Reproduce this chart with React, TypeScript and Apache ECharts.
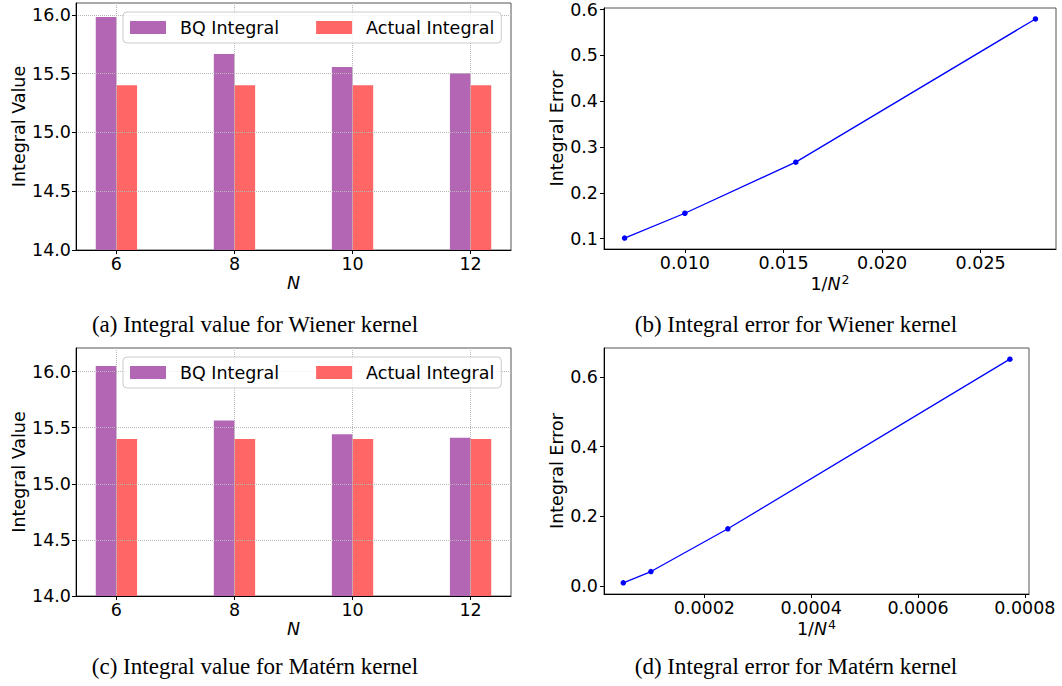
import React, { useEffect, useRef } from "react";
import * as echarts from "echarts";

// ---- data ----
const N_VALUES = [6, 8, 10, 12];
const wienerBQ = [15.98, 15.667, 15.556, 15.502];
const wienerActual = [15.4, 15.4, 15.4, 15.4];
const maternBQ = [16.05, 15.565, 15.442, 15.41];
const maternActual = [15.4, 15.4, 15.4, 15.4];

const wienerInvN2 = [0.027778, 0.015625, 0.01, 0.006944];
const wienerError = [0.5796, 0.2671, 0.1556, 0.1015];
const maternInvN4 = [0.000772, 0.000244, 0.0001, 0.0000482];
const maternError = [0.6506, 0.1645, 0.042, 0.0097];

// ---- tick labels ----
const barYTicks = [14, 14.5, 15, 15.5, 16];
const wienerXTicks = [0.01, 0.015, 0.02, 0.025];
const wienerYTicks = [0.1, 0.2, 0.3, 0.4, 0.5, 0.6];
const maternXTicks = [0.0002, 0.0004, 0.0006, 0.0008];
const maternYTicks = [0, 0.2, 0.4, 0.6];

const captions = [
  "(a) Integral value for Wiener kernel",
  "(b) Integral error for Wiener kernel",
  "(c) Integral value for Matérn kernel",
  "(d) Integral error for Matérn kernel",
];

const FONT = "DejaVu Sans";
const FS = 17.5;
const BQ_COLOR = "#B366B3";
const ACT_COLOR = "#FF6666";

const labelStyle = (margin: number, customValues: number[], digits: number) => ({
  customValues,
  margin,
  fontFamily: FONT,
  fontSize: FS,
  lineHeight: 18,
  color: "#000",
  formatter: (v: number) => v.toFixed(digits),
});

const tickStyle = (customValues: number[]) => ({
  show: true,
  length: 4,
  customValues,
  lineStyle: { color: "#000", width: 1 },
});

const axisLine = { show: true, onZero: false, lineStyle: { color: "#000", width: 1 } };

const nameStyle = (italic: boolean) => ({
  fontFamily: FONT,
  fontSize: FS,
  lineHeight: 18,
  color: "#000",
  fontStyle: italic ? "italic" : "normal",
});

const gridLine = { show: true, lineStyle: { type: "dotted", color: "#b8b8b8", width: 1 } };

function barXAxis(gridIndex: number) {
  return {
    type: "value",
    gridIndex,
    min: 5.315,
    max: 12.685,
    axisLine,
    axisTick: tickStyle(N_VALUES),
    axisLabel: labelStyle(5, N_VALUES, 0),
    splitLine: gridLine,
    name: "N",
    nameLocation: "middle",
    nameGap: 24,
    nameTextStyle: nameStyle(true),
    z: 3,
  };
}

function barYAxis(gridIndex: number, max: number) {
  return {
    type: "value",
    gridIndex,
    min: 14,
    max,
    axisLine,
    axisTick: tickStyle(barYTicks),
    axisLabel: labelStyle(5, barYTicks, 1),
    splitLine: gridLine,
    name: "Integral Value",
    nameLocation: "middle",
    nameGap: 47,
    nameTextStyle: nameStyle(false),
    z: 3,
  };
}

function superName(base: string) {
  return "{r|1/}{i|N}{s|" + base + "}";
}
const superRich = {
  r: { fontFamily: FONT, fontSize: FS, lineHeight: 22, verticalAlign: "middle", color: "#000" },
  i: { fontFamily: FONT, fontSize: FS, lineHeight: 22, verticalAlign: "middle", fontStyle: "italic", color: "#000" },
  s: { fontFamily: FONT, fontSize: 12.5, lineHeight: 13, verticalAlign: "top", color: "#000", padding: [0, 0, 0, 1] },
};

function lineXAxis(gridIndex: number, min: number, max: number, ticks: number[], digits: number, power: string) {
  return {
    type: "value",
    gridIndex,
    min,
    max,
    axisLine,
    axisTick: tickStyle(ticks),
    axisLabel: labelStyle(5, ticks, digits),
    splitLine: { show: false },
    name: superName(power),
    nameLocation: "middle",
    nameGap: 22,
    nameTextStyle: { ...nameStyle(false), lineHeight: 22, rich: superRich },
  };
}

function lineYAxis(gridIndex: number, min: number, max: number, ticks: number[]) {
  return {
    type: "value",
    gridIndex,
    min,
    max,
    axisLine,
    axisTick: tickStyle(ticks),
    axisLabel: labelStyle(6, ticks, 1),
    splitLine: { show: false },
    name: "Integral Error",
    nameLocation: "middle",
    nameGap: 37,
    nameTextStyle: nameStyle(false),
  };
}

const BAR_W = 20.66;
const OFFSET = 0.175;

function barSeries(name: string, idx: number, values: number[], sign: number, color: string) {
  return {
    type: "bar",
    name,
    xAxisIndex: idx,
    yAxisIndex: idx,
    barWidth: BAR_W,
    barGap: "-100%",
    itemStyle: { color },
    data: N_VALUES.map((n, i) => [n + sign * OFFSET, values[i]]),
    clip: true,
    z: 2,
  };
}

function lineSeries(idx: number, xs: number[], ys: number[]) {
  return {
    type: "line",
    xAxisIndex: idx,
    yAxisIndex: idx,
    data: xs.map((x, i) => [x, ys[i]]),
    symbol: "circle",
    symbolSize: 5.5,
    showSymbol: true,
    lineStyle: { color: "#0000ff", width: 1.3 },
    itemStyle: { color: "#0000ff" },
  };
}

function legend(top: number) {
  return {
    left: 123,
    top,
    orient: "horizontal",
    icon: "rect",
    itemWidth: 36,
    itemHeight: 13,
    itemGap: 37,
    padding: [6.5, 7],
    backgroundColor: "rgba(255,255,255,0.8)",
    borderColor: "#cccccc",
    borderWidth: 1,
    borderRadius: 4,
    data: ["BQ Integral", "Actual Integral"],
    textStyle: { fontFamily: FONT, fontSize: FS, lineHeight: 18, color: "#000", padding: [0, 0, 0, 9] },
  };
}

function caption(text: string, x: number, y: number) {
  return {
    type: "text",
    x,
    y,
    style: {
      text,
      font: "23px 'Liberation Serif'",
      fill: "#000",
      align: "center",
      verticalAlign: "middle",
      textAlign: "center",
      textVerticalAlign: "middle",
    },
  };
}

export default function App() {
  const ref = useRef<HTMLDivElement>(null);
  useEffect(() => {
    if (!ref.current) return;
    const chart = echarts.init(ref.current, undefined, { renderer: "svg" });
    const gridBase = { show: true, borderColor: "#555", borderWidth: 1, backgroundColor: "transparent" };
    chart.setOption({
      animation: false,
      backgroundColor: "#fff",
      grid: [
        { ...gridBase, left: 76, top: 3, width: 435, height: 247 },
        { ...gridBase, left: 604, top: 8, width: 452, height: 241 },
        { ...gridBase, left: 76, top: 348, width: 435, height: 248 },
        { ...gridBase, left: 604, top: 348, width: 425, height: 246 },
      ],
      xAxis: [
        barXAxis(0),
        lineXAxis(1, 0.0059, 0.02882, wienerXTicks, 3, "2"),
        barXAxis(2),
        lineXAxis(3, 0.0000121, 0.0008078, maternXTicks, 4, "4"),
      ],
      yAxis: [
        barYAxis(0, 16.1),
        lineYAxis(1, 0.0776, 0.6035, wienerYTicks),
        barYAxis(2, 16.21),
        lineYAxis(3, -0.0224, 0.6826, maternYTicks),
      ],
      legend: [legend(12), legend(357)],
      series: [
        barSeries("BQ Integral", 0, wienerBQ, -1, BQ_COLOR),
        barSeries("Actual Integral", 0, wienerActual, 1, ACT_COLOR),
        lineSeries(1, wienerInvN2, wienerError),
        barSeries("BQ Integral", 2, maternBQ, -1, BQ_COLOR),
        barSeries("Actual Integral", 2, maternActual, 1, ACT_COLOR),
        lineSeries(3, maternInvN4, maternError),
      ],
      graphic: [
        caption(captions[0], 255, 324),
        caption(captions[1], 796, 324),
        caption(captions[2], 255, 666),
        caption(captions[3], 796, 666),
      ],
    });
    return () => chart.dispose();
  }, []);
  return (
    <div
      ref={ref}
      style={{ position: "fixed", left: 0, top: 0, width: 1062, height: 686, background: "#fff" }}
    />
  );
}
